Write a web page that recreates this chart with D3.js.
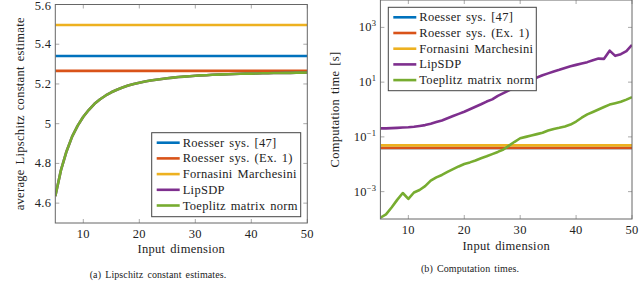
<!DOCTYPE html>
<html>
<head>
    <title>Lipschitz constant estimates and computation times</title>
    <script src="https://cdn.jsdelivr.net/npm/d3@7"></script>
    <style>
        body { margin: 0; background: white; }
    </style>
</head>
<body>
<div id="graph"></div>
<script>
    var width = 640;
    var height = 291;

    // input dimension 5..50
    var dims = d3.range(5, 51);

    var methods = ["Roesser sys. [47]", "Roesser sys. (Ex. 1)", "Fornasini Marchesini", "LipSDP", "Toeplitz matrix norm"];
    var colors = ["#0072BD", "#D95319", "#EDB120", "#7E2F8E", "#77AC30"];

    // (a) average Lipschitz constant estimate
    var estRoesser47 = 5.341;
    var estRoesserEx1 = 5.266;
    var estFornasini = 5.497;
    var estToeplitz = [4.635, 4.765, 4.86, 4.935, 4.99, 5.035, 5.07, 5.10, 5.123, 5.142,
        5.158, 5.171, 5.182, 5.192, 5.200, 5.206, 5.212, 5.217, 5.221, 5.225,
        5.229, 5.232, 5.235, 5.237, 5.239, 5.241, 5.243, 5.244, 5.246, 5.247,
        5.248, 5.249, 5.250, 5.251, 5.252, 5.252, 5.253, 5.254, 5.254, 5.255,
        5.255, 5.256, 5.256, 5.257, 5.257, 5.258];
    var estLipSDP = estToeplitz.slice(); // lies under the green curve

    // (b) computation time [s]
    var timeRoesser47 = 0.039;
    var timeRoesserEx1 = 0.039;
    var timeFornasini = 0.049;
    var timeLipSDP = [0.204, 0.204, 0.209, 0.214, 0.219, 0.224, 0.234, 0.251, 0.269, 0.302,
        0.347, 0.398, 0.479, 0.575, 0.692, 0.832, 1.02, 1.26, 1.55, 1.95,
        2.34, 3.16, 3.98, 5.01, 6.31, 7.94, 9.55, 11.7, 14.8, 17.8,
        20.9, 24.5, 28.2, 33.1, 38.0, 42.7, 47.9, 53.7, 63.1, 72.4,
        70.8, 141, 91.2, 105, 135, 229];
    var timeToeplitz = [1.12e-4, 1.48e-4, 2.63e-4, 5.0e-4, 8.9e-4, 5.4e-4, 9.3e-4, 1.15e-3, 1.58e-3, 2.51e-3,
        3.31e-3, 4.07e-3, 5.25e-3, 6.61e-3, 8.32e-3, 0.0102, 0.0117, 0.0138, 0.0166, 0.0195,
        0.0234, 0.0282, 0.0347, 0.0479, 0.0661, 0.0891, 0.100, 0.112, 0.126, 0.141,
        0.170, 0.195, 0.214, 0.240, 0.282, 0.363, 0.501, 0.661, 0.813, 1.00,
        1.23, 1.51, 1.70, 1.91, 2.29, 2.82];

    var xTicks = [10, 20, 30, 40, 50];
    var estTicks = [4.6, 4.8, 5, 5.2, 5.4, 5.6];
    var timeTicks = [-3, -1, 1, 3]; // powers of ten

    var fs = "12.5px";
    var ink = "#222";

    var svg = d3.select("#graph").append("svg")
            .attr("width", width)
            .attr("height", height)
            .attr("font-family", "Liberation Serif")
            .attr("letter-spacing", "0.3px")
            .attr("word-spacing", "1.5px");

    function constSeries(v) {
        return dims.map(function () { return v; });
    }

    function drawPanel(opt) {
        var g = svg.append("g");
        var x = d3.scaleLinear().domain([5, 50]).range([opt.left, opt.right]);
        var y = opt.y;
        var top = y.range()[1], bottom = y.range()[0];

        var clipId = "clip" + opt.id;
        svg.append("clipPath").attr("id", clipId)
            .append("rect")
            .attr("x", opt.left).attr("y", top)
            .attr("width", opt.right - opt.left).attr("height", bottom - top);

        // inward ticks on all four sides
        var tickColor = "#aaa";
        xTicks.forEach(function (t) {
            g.append("line").attr("x1", x(t)).attr("x2", x(t)).attr("y1", bottom).attr("y2", bottom - 4).attr("stroke", tickColor);
            g.append("line").attr("x1", x(t)).attr("x2", x(t)).attr("y1", top).attr("y2", top + 4).attr("stroke", tickColor);
            g.append("text").attr("x", x(t)).attr("y", bottom + opt.xTickDy)
                .attr("text-anchor", "middle").attr("font-size", fs).attr("fill", ink).text(t);
        });
        opt.yTicks.forEach(function (t) {
            var yy = y(opt.tickValue(t));
            g.append("line").attr("x1", opt.left).attr("x2", opt.left + 4).attr("y1", yy).attr("y2", yy).attr("stroke", tickColor);
            g.append("line").attr("x1", opt.right).attr("x2", opt.right - 4).attr("y1", yy).attr("y2", yy).attr("stroke", tickColor);
            opt.tickLabel(g, opt.left - 4, yy, t);
        });

        var line = d3.line()
            .x(function (d, i) { return x(dims[i]); })
            .y(function (d) { return y(d); });

        g.append("g").attr("clip-path", "url(#" + clipId + ")")
            .selectAll("path")
            .data(opt.series)
            .enter()
            .append("path")
            .attr("d", line)
            .attr("fill", "none")
            .attr("stroke", function (d, i) { return colors[i]; })
            .attr("stroke-width", 2.6)
            .attr("stroke-linejoin", "round");

        g.append("rect")
            .attr("x", opt.left).attr("y", top)
            .attr("width", opt.right - opt.left).attr("height", bottom - top)
            .attr("fill", "none").attr("stroke", "#666").attr("stroke-width", 1);

        // legend
        var lg = g.append("g");
        lg.append("rect")
            .attr("x", opt.legend.x).attr("y", opt.legend.y)
            .attr("width", opt.legend.w).attr("height", opt.legend.h)
            .attr("fill", "white").attr("stroke", "#444").attr("stroke-width", 1);
        methods.forEach(function (m, i) {
            var ly = opt.legend.y + 10 + i * 15.7;
            lg.append("line")
                .attr("x1", opt.legend.x + 5).attr("x2", opt.legend.x + 28)
                .attr("y1", ly).attr("y2", ly)
                .attr("stroke", colors[i]).attr("stroke-width", 2.6);
            lg.append("text")
                .attr("x", opt.legend.x + 31).attr("y", ly + 4)
                .attr("font-size", fs).attr("fill", ink).text(m);
        });

        g.append("text")
            .attr("transform", "translate(" + opt.yLabelX + "," + (top + bottom) / 2 + ") rotate(-90)")
            .attr("text-anchor", "middle").attr("font-size", fs).attr("fill", ink).text(opt.yLabel);
        g.append("text")
            .attr("x", (opt.left + opt.right) / 2).attr("y", opt.xLabelY)
            .attr("text-anchor", "middle").attr("font-size", fs).attr("fill", ink).text("Input dimension");
        g.append("text")
            .attr("x", opt.captionX).attr("y", opt.captionY)
            .attr("text-anchor", "middle").attr("font-size", "10px").attr("letter-spacing", "0.1px")
            .attr("fill", ink).text(opt.caption);
    }

    drawPanel({
        id: "a",
        left: 55.3, right: 307.3,
        y: d3.scaleLinear().domain([4.5, 5.6]).range([223, 4.5]),
        yTicks: estTicks,
        tickValue: function (t) { return t; },
        tickLabel: function (g, xx, yy, t) {
            g.append("text").attr("x", xx).attr("y", Math.max(yy + 4, 10))
                .attr("text-anchor", "end").attr("font-size", fs).attr("fill", ink).text(t);
        },
        series: [constSeries(estRoesser47), constSeries(estRoesserEx1), constSeries(estFornasini), estLipSDP, estToeplitz],
        legend: { x: 151.7, y: 132.7, w: 149, h: 84 },
        yLabel: "average Lipschitz constant estimate",
        yLabelX: 24,
        xTickDy: 14.5,
        xLabelY: 253,
        caption: "(a) Lipschitz constant estimates.",
        captionX: 158, captionY: 278
    });

    drawPanel({
        id: "b",
        left: 380.4, right: 632,
        y: d3.scaleLog().domain([1e-4, 1e4]).range([219, 0]),
        yTicks: timeTicks,
        tickValue: function (t) { return Math.pow(10, t); },
        tickLabel: function (g, xx, yy, t) {
            var tx = g.append("text").attr("x", xx).attr("y", yy + 4)
                .attr("text-anchor", "end").attr("font-size", fs).attr("fill", ink);
            tx.append("tspan").text("10");
            tx.append("tspan").attr("dy", -5).attr("font-size", "8.5px").text(t < 0 ? "\u2212" + (-t) : t);
        },
        series: [constSeries(timeRoesser47), constSeries(timeRoesserEx1), constSeries(timeFornasini), timeLipSDP, timeToeplitz],
        legend: { x: 388.3, y: 7.3, w: 148, h: 83.4 },
        yLabel: "Computation time [s]",
        yLabelX: 339,
        xTickDy: 14.5,
        xLabelY: 250,
        caption: "(b) Computation times.",
        captionX: 470, captionY: 272
    });
</script>
</body>
</html>
